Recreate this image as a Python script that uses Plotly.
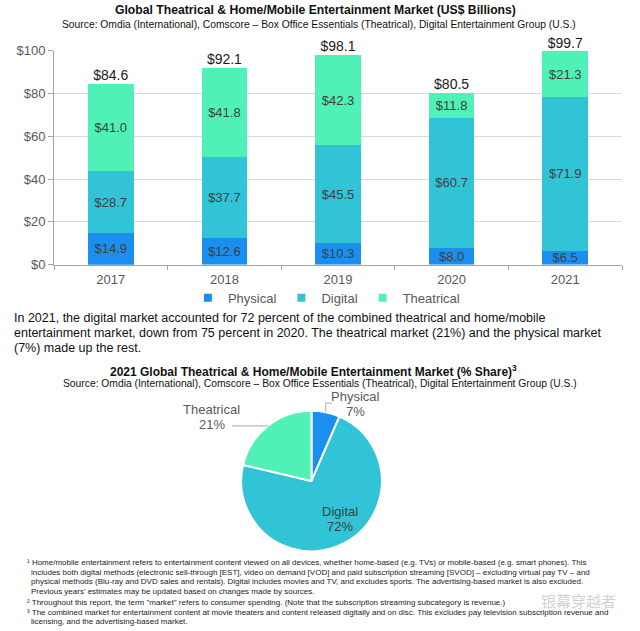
import plotly.graph_objects as go
import math

W, H = 640, 631

years = ["2017", "2018", "2019", "2020", "2021"]
physical = [14.9, 12.6, 10.3, 8.0, 6.5]
digital = [28.7, 37.7, 45.5, 60.7, 71.9]
theatrical = [41.0, 41.8, 42.3, 11.8, 21.3]
y_ticks = [0, 20, 40, 60, 80, 100]
y_tick_labels = ["$0", "$20", "$40", "$60", "$80", "$100"]

pie_labels = ["Physical", "Digital", "Theatrical"]
pie_values = [6.5, 71.9, 21.3]

paragraph = [
    "In 2021, the digital market accounted for 72 percent of the combined theatrical and home/mobile",
    "entertainment market, down from 75 percent in 2020. The theatrical market (21%) and the physical market",
    "(7%) made up the rest.",
]
footnotes = [
    "¹ Home/mobile entertainment refers to entertainment content viewed on all devices, whether home-based (e.g. TVs) or mobile-based (e.g. smart phones). This",
    "  includes both digital methods (electronic sell-through [EST], video on demand [VOD] and paid subscription streaming [SVOD] – excluding virtual pay TV – and",
    "  physical methods (Blu-ray and DVD sales and rentals). Digital includes movies and TV, and excludes sports. The advertising-based market is also excluded.",
    "  Previous years' estimates may be updated based on changes made by sources.",
    "² Throughout this report, the term \"market\" refers to consumer spending. (Note that the subscription streaming subcategory is revenue.)",
    "³ The combined market for entertainment content at movie theaters and content released digitally and on disc. This excludes pay television subscription revenue and",
    "  licensing, and the advertising-based market.",
]

C_PHYS = "#1a8ff0"
C_DIG = "#31c4d6"
C_THEA = "#4ff1b6"
FONT = "Liberation Sans, Arial, sans-serif"

# vertical layout correction (page pixel -> figure pixel)
V_OFF, V_SCALE = 7.4, 0.972

def px(x):
    return x / W

def fy_px(y):
    return (y - V_OFF) / V_SCALE

def py(y):
    return 1 - fy_px(y) / H

totals = [round(a + b + c, 1) for a, b, c in zip(physical, digital, theatrical)]

fig = go.Figure()
for name, vals, col in [("Physical", physical, C_PHYS), ("Digital", digital, C_DIG), ("Theatrical", theatrical, C_THEA)]:
    fig.add_trace(go.Bar(
        x=years, y=vals, name=name, marker=dict(color=col, line=dict(width=0)),
        texttemplate="$%{y:.1f}", textposition="inside", insidetextanchor="middle",
        constraintext="none", textangle=0,
        textfont=dict(family=FONT, size=13, color="#404040"),
        hoverinfo="skip", showlegend=False, legendgroup=name,
    ))
    fig.add_trace(go.Scatter(
        x=[None], y=[None], mode="markers", name=name, legendgroup=name,
        marker=dict(symbol="square", size=8, color=col), hoverinfo="skip",
    ))

fig.add_trace(go.Scatter(
    x=years, y=totals, mode="text", text=["$%.1f" % t for t in totals],
    textposition="top center", textfont=dict(family=FONT, size=14, color="#1a1a1a"),
    showlegend=False, hoverinfo="skip", cliponaxis=False,
))

# pie (reference centre 311.5, 479.3, radius 70)
PCX, PCY, PR = 311.5, 479.3, 70
pr_fig = PR / V_SCALE
pcy_fig = fy_px(PCY)
pie_x = [px(PCX - pr_fig), px(PCX + pr_fig)]
pie_y = [1 - (pcy_fig + pr_fig) / H, 1 - (pcy_fig - pr_fig) / H]
fig.add_trace(go.Pie(
    labels=pie_labels, values=pie_values, sort=False, direction="clockwise", rotation=0,
    marker=dict(colors=[C_PHYS, C_DIG, C_THEA], line=dict(color="white", width=2)),
    textinfo="none",
    domain=dict(x=pie_x, y=pie_y),
    showlegend=False, hoverinfo="skip",
))

fig.update_layout(
    width=W, height=H, margin=dict(l=0, r=0, t=0, b=0),
    paper_bgcolor="white", plot_bgcolor="white",
    barmode="stack", bargap=0.6,
    font=dict(family=FONT, color="#595959"),
    xaxis=dict(domain=[px(54), px(622)], type="category", showgrid=False,
               showline=True, linecolor="#a6a6a6", linewidth=1,
               ticks="outside", tickson="boundaries", ticklen=4, tickcolor="#a6a6a6",
               ticklabelstandoff=3,
               tickfont=dict(family=FONT, size=13, color="#595959"), anchor="y"),
    yaxis=dict(domain=[py(264), py(51)], range=[0, 100], tickvals=y_ticks, ticktext=y_tick_labels,
               showgrid=True, gridcolor="#d9d9d9", gridwidth=1, zeroline=False,
               showline=True, linecolor="#a6a6a6", linewidth=1,
               ticks="outside", ticklen=5, tickcolor="#a6a6a6",
               tickfont=dict(family=FONT, size=13, color="#595959"), anchor="x"),
    legend=dict(orientation="h", x=0.51, xanchor="center", y=py(297), yanchor="middle",
                font=dict(family=FONT, size=13, color="#595959"), traceorder="normal",
                itemwidth=30, bgcolor="rgba(0,0,0,0)", tracegroupgap=0),
)

ann = []
def text(x, y, s, size, color="#111", bold=False, xanchor="center", family=FONT):
    if bold:
        s = "<b>" + s + "</b>"
    ann.append(dict(x=px(x), y=py(y), xref="paper", yref="paper", text=s, showarrow=False,
                    xanchor=xanchor, yanchor="middle", borderpad=0,
                    font=dict(family=family, size=size, color=color)))

text(315, 10, "Global Theatrical & Home/Mobile Entertainment Market (US$ Billions)", 12.2, "#111", True)
text(319, 25, "Source: Omdia (International), Comscore – Box Office Essentials (Theatrical), Digital Entertainment Group (U.S.)", 10.3, "#111")

for i, line in enumerate(paragraph):
    text(13, [317, 332, 347][i], line, 12.5, "#111", xanchor="left")

text(313, 370, "2021 Global Theatrical & Home/Mobile Entertainment Market (% Share)<sup>3</sup>", 12, "#111", True)
text(320, 382, "Source: Omdia (International), Comscore – Box Office Essentials (Theatrical), Digital Entertainment Group (U.S.)", 10.3, "#111")

fy = [560, 570, 579, 589, 600, 610, 619]
for i, line in enumerate(footnotes):
    if line.startswith("  "):
        text(30, fy[i], line.strip(), 8, "#222", xanchor="left")
    else:
        text(26, fy[i], line, 8, "#222", xanchor="left")

# pie labels positioned from slice geometry (reference pixel space)
tot = sum(pie_values)
cum = 0
mids = []
for v in pie_values:
    mids.append((cum + v / 2) / tot * 2 * math.pi)
    cum += v

def edge(idx):
    a = mids[idx]
    return PCX + PR * math.sin(a), PCY - PR * math.cos(a)

shapes = []
def leader(x0, y0, x1, y1):
    shapes.append(dict(type="line", xref="paper", yref="paper",
                       x0=px(x0), y0=py(y0), x1=px(x1), y1=py(y1),
                       line=dict(color="#a6a6a6", width=1)))

def pie_text(x, y, idx, color="#595959"):
    pct = "%d%%" % round(pie_values[idx] / tot * 100)
    text(x, y - 7.5, pie_labels[idx], 13, color)
    text(x, y + 7.5, pct, 13, color)

ex, ey = edge(0)
leader(ex, ey, ex, ey - 9)
leader(ex, ey - 9, ex + 6, ey - 9)
pie_text(ex + 30, ey - 8.5, 0)

ex, ey = edge(2)
leader(ex, ey, ex - 36, ey)
pie_text(ex - 56, ey - 8.5, 2)

pie_text(PCX + 28.5, PCY + 37.5, 1, "#404040")

text(578, 598, "银幕穿越者", 15, "rgba(170,170,170,0.55)", family="Noto Sans CJK SC")

fig.update_layout(annotations=ann, shapes=shapes)

page_fix = (
    "var s=document.createElement('style');"
    "s.innerHTML='html,body{margin:0 !important;padding:0 !important;overflow:hidden !important;}';"
    "document.head.appendChild(s);"
)
fig.write_html("out.html", config={"displayModeBar": False}, post_script=page_fix)
